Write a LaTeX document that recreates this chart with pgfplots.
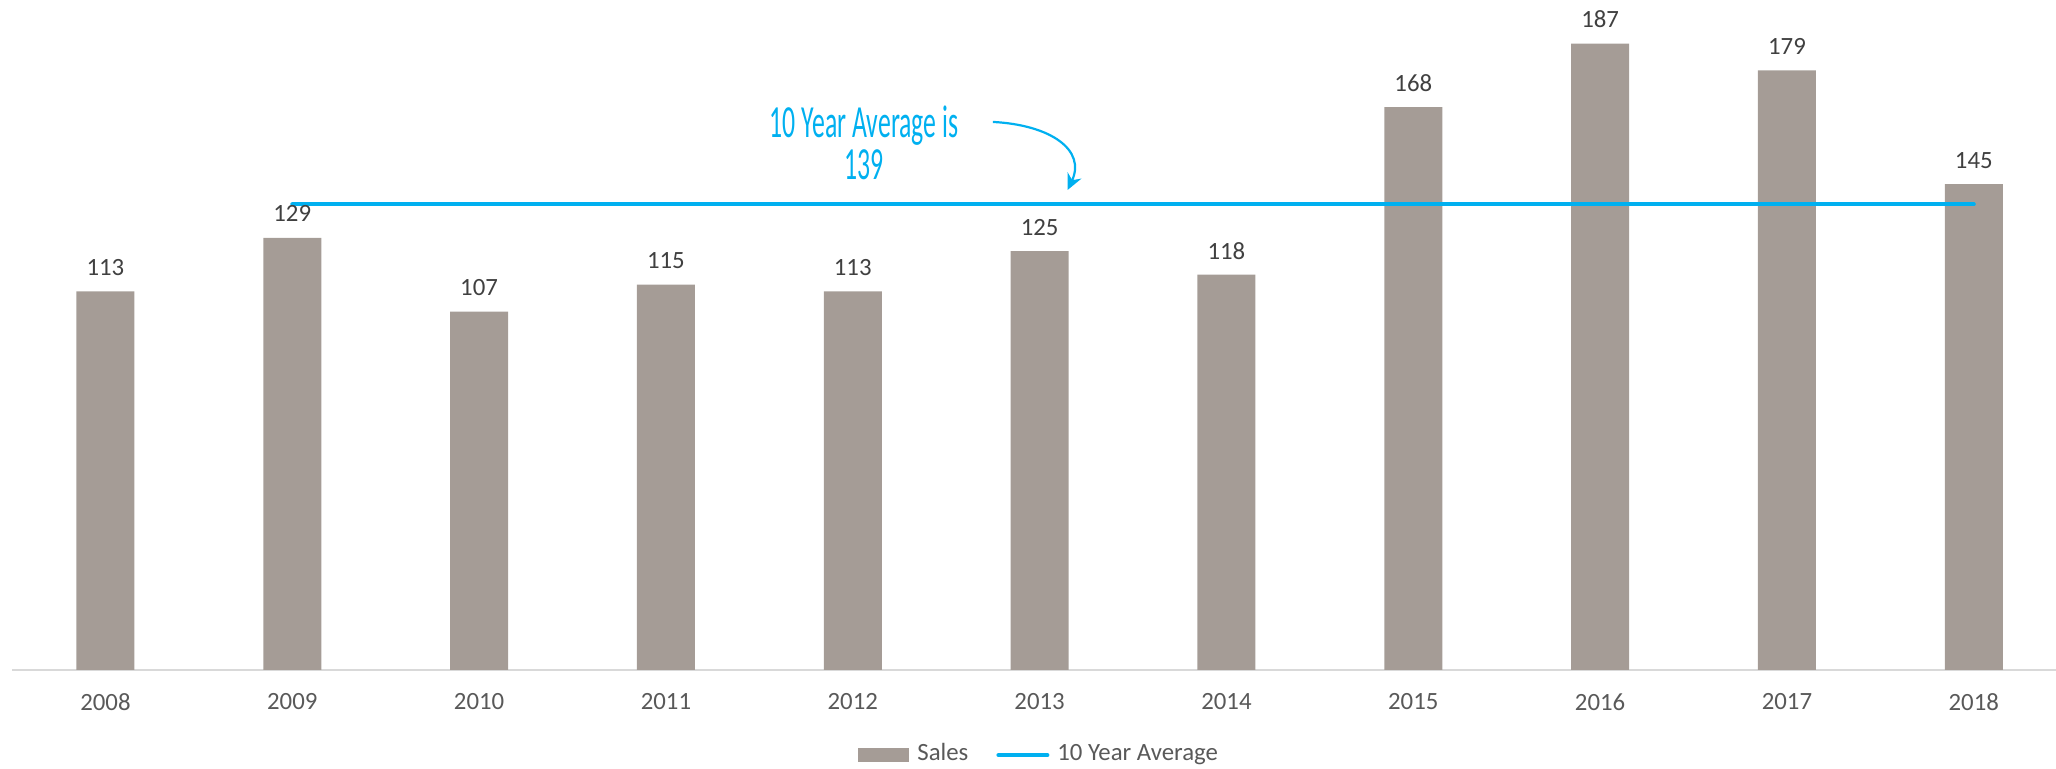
\documentclass[border=0pt]{standalone}
\usepackage{fontspec}
\setmainfont{Carlito}
\usepackage{pgfplots}
\pgfplotsset{compat=1.18}
\usetikzlibrary{arrows.meta}
\usepackage{graphicx}
\definecolor{salesgray}{RGB}{165,156,150}
\definecolor{avgblue}{RGB}{0,176,240}
\definecolor{labgray}{RGB}{64,64,64}
\definecolor{tickgray}{RGB}{89,89,89}
\definecolor{axisgray}{RGB}{217,217,217}

\begin{document}
\begin{tikzpicture}
\path[use as bounding box] (-3pt,-24.75pt) rectangle (511pt,167.5pt);
\begin{axis}[
    at={(0,0)}, anchor=south west,
    scale only axis,
    width=511pt, height=167.5pt,
    xmin=-0.5, xmax=10.44,
    ymin=0, ymax=200,
    axis x line*=bottom,
    axis y line=none,
    x axis line style={-, draw=axisgray, line width=0.35pt},
    xtick={0,...,10},
    xticklabels={2008,2009,2010,2011,2012,2013,2014,2015,2016,2017,2018},
    major tick length=0pt,
    xticklabel style={font=\fontsize{6.2}{7}\selectfont, text=tickgray, anchor=center, inner sep=0pt, yshift=-8pt},
    /pgf/number format/assume math mode=true,
    clip=false,
    legend columns=2,
    legend style={at={(axis description cs:0.504,-0.127)}, anchor=center, draw=none,
        font=\fontsize{6.2}{7}\selectfont, text=tickgray,
        /tikz/every even column/.append style={column sep=5pt}},
]
\addplot[ybar, bar width=14.5pt, fill=salesgray, draw=none,
    nodes near coords,
    nodes near coords style={font=\fontsize{6.2}{7}\selectfont, text=labgray, anchor=center, inner sep=0pt, yshift=6pt},
    legend image code/.code={\fill[salesgray] (0pt,-1.75pt) rectangle (12.75pt,1.75pt);}]
    coordinates {(0,113) (1,129) (2,107) (3,115) (4,113) (5,125) (6,118) (7,168) (8,187) (9,179) (10,145)};
\addlegendentry{Sales}
\addplot[sharp plot, no markers, draw=avgblue, line width=1pt, line cap=round,
    legend image code/.code={\draw[avgblue, line width=1pt, line cap=round] (0.5pt,0pt) -- (12.75pt,0pt);}]
    coordinates {(1,139) (10,139)};
\addlegendentry{10 Year Average}
\node[text=avgblue, anchor=base, inner sep=0pt, font=\fontsize{11.5}{12}\selectfont]
    at (axis cs:4.06,159.1) {\scalebox{0.56}[1]{10 Year Average is}};
\node[text=avgblue, anchor=base, inner sep=0pt, font=\fontsize{11.5}{12}\selectfont]
    at (axis cs:4.06,146.5) {\scalebox{0.56}[1]{139}};
\draw[avgblue, line width=0.55pt, -{Stealth[length=4pt,width=3.8pt]}]
    (axis cs:4.75,163.6) .. controls (axis cs:5.06,162.7) and (axis cs:5.25,155.2) .. (axis cs:5.15,143.3);
\end{axis}
\end{tikzpicture}
\end{document}
